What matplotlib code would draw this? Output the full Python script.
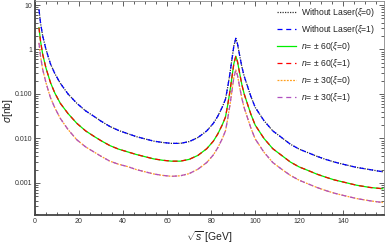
import matplotlib
matplotlib.use("Agg")
import matplotlib.pyplot as plt
from matplotlib.ticker import FixedLocator, FixedFormatter, MultipleLocator, LogLocator, NullFormatter

# sqrt(s) in GeV
sqrt_s = [1.8, 2.5, 3.5, 5, 7, 9, 11.5, 15, 19, 23, 27, 30, 34, 38, 42, 46, 50, 54, 58, 62,
          66, 70, 74, 78, 81, 83, 85, 86.5, 87.5, 88.5, 89.5, 90.3, 91.2, 92, 93, 94, 95, 96,
          98, 100, 104, 108, 112, 116, 120, 124, 128, 132, 136, 140, 146, 152, 158]

# cross sections in nb
sigma_nolaser = [7.94, 3.98, 2.0, 1.0, 0.479, 0.288, 0.174, 0.100, 0.0617, 0.0417, 0.0309,
                 0.0245, 0.0186, 0.0151, 0.0129, 0.0110, 0.00977, 0.00871, 0.00813, 0.00776,
                 0.00776, 0.00851, 0.0105, 0.0148, 0.0219, 0.0316, 0.0501, 0.0759, 0.141,
                 0.282, 0.631, 1.20, 1.78, 1.32, 0.708, 0.398, 0.251, 0.178, 0.0891, 0.0501,
                 0.0251, 0.0148, 0.0105, 0.00741, 0.00575, 0.00479, 0.00398, 0.00339, 0.00295,
                 0.00263, 0.00224, 0.00200, 0.00178]

sigma_n60 = [3.09, 1.55, 0.776, 0.380, 0.182, 0.105, 0.0617, 0.0363, 0.0219, 0.0148, 0.0110,
             0.00891, 0.00692, 0.00575, 0.00501, 0.00437, 0.00389, 0.00347, 0.00324, 0.00309,
             0.00309, 0.00339, 0.00417, 0.00589, 0.00871, 0.0126, 0.0200, 0.0302, 0.0562,
             0.112, 0.251, 0.479, 0.708, 0.525, 0.282, 0.158, 0.100, 0.0708, 0.0355, 0.0200,
             0.0100, 0.00589, 0.00417, 0.00295, 0.00229, 0.00191, 0.00158, 0.00135, 0.00117,
             0.00105, 0.000891, 0.000794, 0.000741]

sigma_n30 = [1.41, 0.708, 0.355, 0.178, 0.0832, 0.0490, 0.0282, 0.0159, 0.00933, 0.00646,
             0.00490, 0.00398, 0.00309, 0.00263, 0.00234, 0.00200, 0.00178, 0.00159, 0.00148,
             0.00141, 0.00145, 0.00162, 0.00204, 0.00288, 0.00427, 0.00617, 0.00977, 0.0148,
             0.0275, 0.0550, 0.123, 0.234, 0.347, 0.257, 0.138, 0.0776, 0.0490, 0.0347, 0.0174,
             0.00977, 0.00490, 0.00288, 0.00204, 0.00148, 0.00115, 0.000955, 0.000794,
             0.000676, 0.000589, 0.000525, 0.000447, 0.000398, 0.000363]

labels = [r"Without Laser($\xi$=0)", r"Without Laser($\xi$=1)",
          r"$n$= $\pm$ 60($\xi$=0)", r"$n$= $\pm$ 60($\xi$=1)",
          r"$n$= $\pm$ 30($\xi$=0)", r"$n$= $\pm$ 30($\xi$=1)"]

y_ticks = [0.001, 0.01, 0.1, 1, 10]
y_ticklabels = ["0.001", "0.010", "0.100", "1", "10"]

plt.rcParams['font.family'] = ['Liberation Sans', 'DejaVu Sans']
plt.rcParams['mathtext.fontset'] = 'custom'
plt.rcParams['mathtext.rm'] = 'Liberation Sans'
plt.rcParams['mathtext.it'] = 'Liberation Sans:italic'
plt.rcParams['mathtext.bf'] = 'Liberation Sans:bold'

fig = plt.figure(figsize=(3.85, 2.47), dpi=100)
ax = fig.add_axes([35/385, 1 - 215/247, (384 - 35)/385, (215 - 1)/247])

lw = 0.9
ax.plot(sqrt_s, sigma_nolaser, color="#333333", ls=(0, (1, 1)), lw=lw, label=labels[0])
ax.plot(sqrt_s, sigma_nolaser, color="#0000ff", ls=(0, (4, 3)), lw=lw, label=labels[1])
ax.plot(sqrt_s, sigma_n60, color="#00ee00", ls="-", lw=lw, label=labels[2])
ax.plot(sqrt_s, sigma_n60, color="#ff0000", ls=(0, (4, 3)), lw=lw, label=labels[3])
ax.plot(sqrt_s, sigma_n30, color="#ffa020", ls=(0, (1.5, 1)), lw=lw, label=labels[4])
ax.plot(sqrt_s, sigma_n30, color="#b050c0", ls=(0, (4, 3)), lw=lw, label=labels[5])

ax.set_yscale("log")
ax.set_xlim(0, 158.5)
ax.set_ylim(10**-3.72, 10**1.09)

ax.xaxis.set_major_locator(MultipleLocator(20))
ax.xaxis.set_minor_locator(MultipleLocator(5))
ax.yaxis.set_major_locator(FixedLocator(y_ticks))
ax.yaxis.set_major_formatter(FixedFormatter(y_ticklabels))
ax.yaxis.set_minor_locator(LogLocator(base=10, subs=range(2, 10)))
ax.yaxis.set_minor_formatter(NullFormatter())

ax.tick_params(which="both", direction="in", top=True, right=True, labelsize=5,
               colors="#444444", labelcolor="#333333", width=0.6)
ax.tick_params(which="major", length=3.5, pad=2)
ax.tick_params(which="minor", length=2)

for side in ["left", "bottom"]:
    ax.spines[side].set_linewidth(1.3)
    ax.spines[side].set_color("#444444")
for side in ["top", "right"]:
    ax.spines[side].set_linewidth(0.6)
    ax.spines[side].set_color("#888888")

ax.set_xlabel(r"$\sqrt{s}$ [GeV]", fontsize=7.5, color="#222222", labelpad=3)
ax.set_ylabel(r"$\sigma$[nb]", fontsize=7.5, color="#222222")
ax.yaxis.set_label_coords(-0.058, 0.49)

leg = ax.legend(loc="upper right", frameon=False, fontsize=6.2, handlelength=2.3,
                labelspacing=0.45, borderaxespad=0.2, handletextpad=0.5,
                bbox_to_anchor=(1 - 4/349, 1.0))
for t in leg.get_texts():
    t.set_color("#222222")

fig.savefig("out.png", dpi=100)
